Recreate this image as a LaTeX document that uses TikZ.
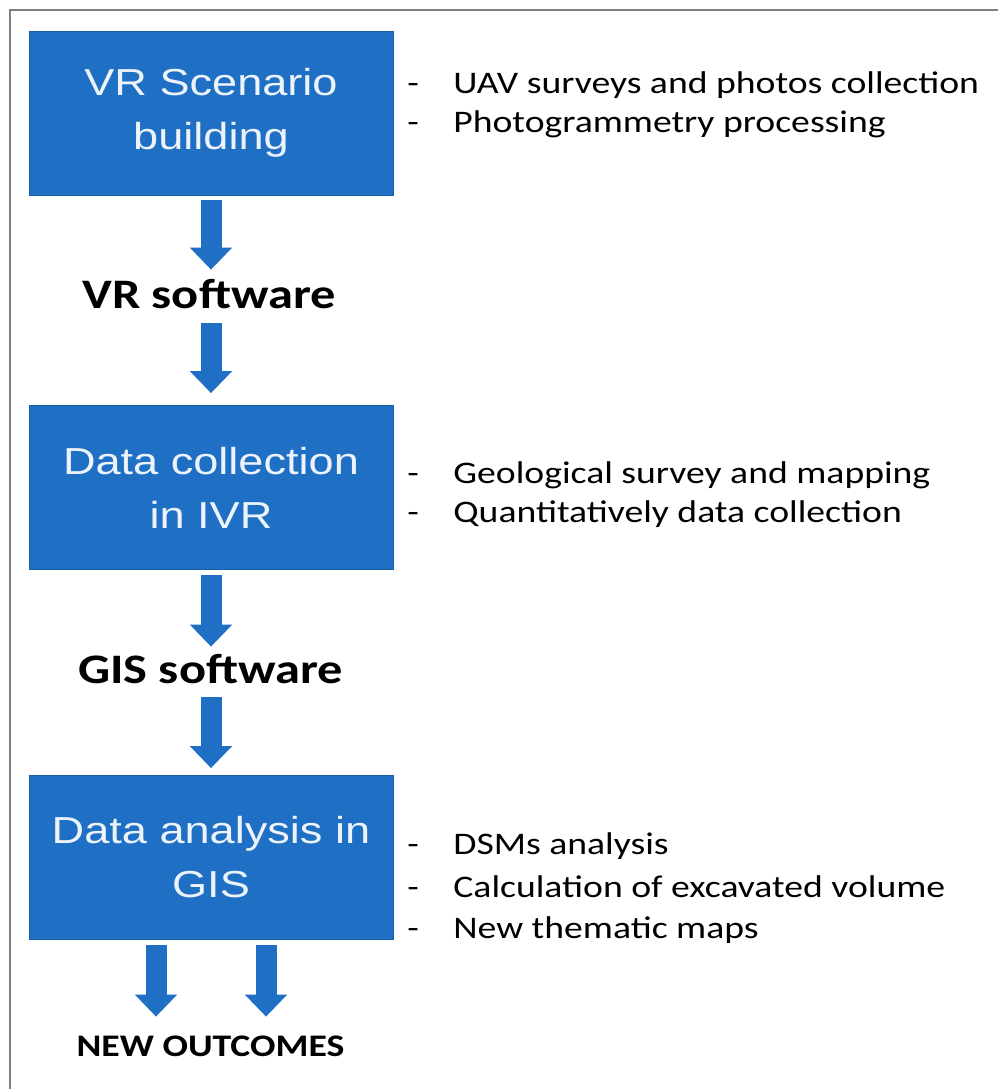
\documentclass[tikz,border=0pt]{standalone}
\usepackage{fontspec}
\setmainfont[FakeStretch=1.2]{Carlito}
\newfontfamily\boxfont[FakeStretch=1.2]{Liberation Sans}
\usetikzlibrary{arrows.meta, positioning}
\definecolor{flowblue}{RGB}{31,111,196}
\definecolor{boxtext}{RGB}{236,243,250}
\tikzset{
        x=0.5pt, y=-0.5pt, % one unit is one pixel of the figure
        procbox/.style={fill=flowblue, draw=flowblue!85!black, line width=0.4pt, text=boxtext,
                minimum width=182pt, minimum height=82pt, align=center, inner sep=0pt,
                font=\boxfont\fontsize{18.8}{27}\selectfont}, % blue step boxes
        tool/.style={anchor=base, inner sep=0pt, text height=14.5pt, text depth=4pt,
                font=\bfseries\fontsize{21}{25}\selectfont}, % software labels
        outcome/.style={anchor=base, inner sep=0pt, text height=11pt, text depth=3pt,
                font=\bfseries\fontsize{15.7}{19}\selectfont},
        item/.style={anchor=base west, inner sep=0pt, font=\fontsize{15.7}{19}\selectfont},
        flow/.style={draw=flowblue, line width=10.5pt, -{Triangle[width=20.5pt, length=11pt]}}, % block arrows
        frame/.style={draw=black!50, line width=1pt},
        }

\begin{document}
\begin{tikzpicture}
        \useasboundingbox (0,0) rectangle (998,1089);
        \draw[frame] (998,10) -| (10,1089);

        % steps and tools
        \node[procbox] (scenario) at (211,113) {VR Scenario\\building};
        \node[tool] (vrsoft) at (209,308) {VR software};
        \node[procbox] (collection) at (211,487.5) {Data collection\\in IVR};
        \node[tool] (gissoft) at (210.5,683) {GIS software};
        \node[procbox] (analysis) at (211,857.5) {Data analysis in\\GIS};
        \node[outcome] (outcomes) at (210.5,1056) {NEW OUTCOMES};

        % side notes
        \foreach \y/\txt [count=\i] in {93/UAV surveys and photos collection, 132/Photogrammetry processing,
                483/Geological survey and mapping, 522/Quantitatively data collection,
                854/DSMs analysis, 897/Calculation of excavated volume, 938/New thematic maps}
                \node[item] (item\i) at (407,\y) {\makebox[23pt][l]{-}\txt};

        % arrows
        \draw[flow, shorten <=2.5pt, shorten >=4.5pt] (scenario.south) -- (scenario.south |- vrsoft.north);
        \draw[flow, shorten <=3.5pt, shorten >=6pt] (vrsoft.south -| collection.north) -- (collection.north);
        \draw[flow, shorten <=2.5pt, shorten >=3.5pt] (collection.south) -- (collection.south |- gissoft.north);
        \draw[flow, shorten <=3pt, shorten >=3.5pt] (gissoft.south -| analysis.north) -- (analysis.north);
        \coordinate (outL) at ([xshift=-27.5pt]analysis.south);
        \coordinate (outR) at ([xshift=27.5pt]analysis.south);
        \draw[flow, shorten <=2.5pt, shorten >=8.5pt] (outL) -- (outL |- outcomes.north);
        \draw[flow, shorten <=2.5pt, shorten >=8.5pt] (outR) -- (outR |- outcomes.north);
\end{tikzpicture}
\end{document}
